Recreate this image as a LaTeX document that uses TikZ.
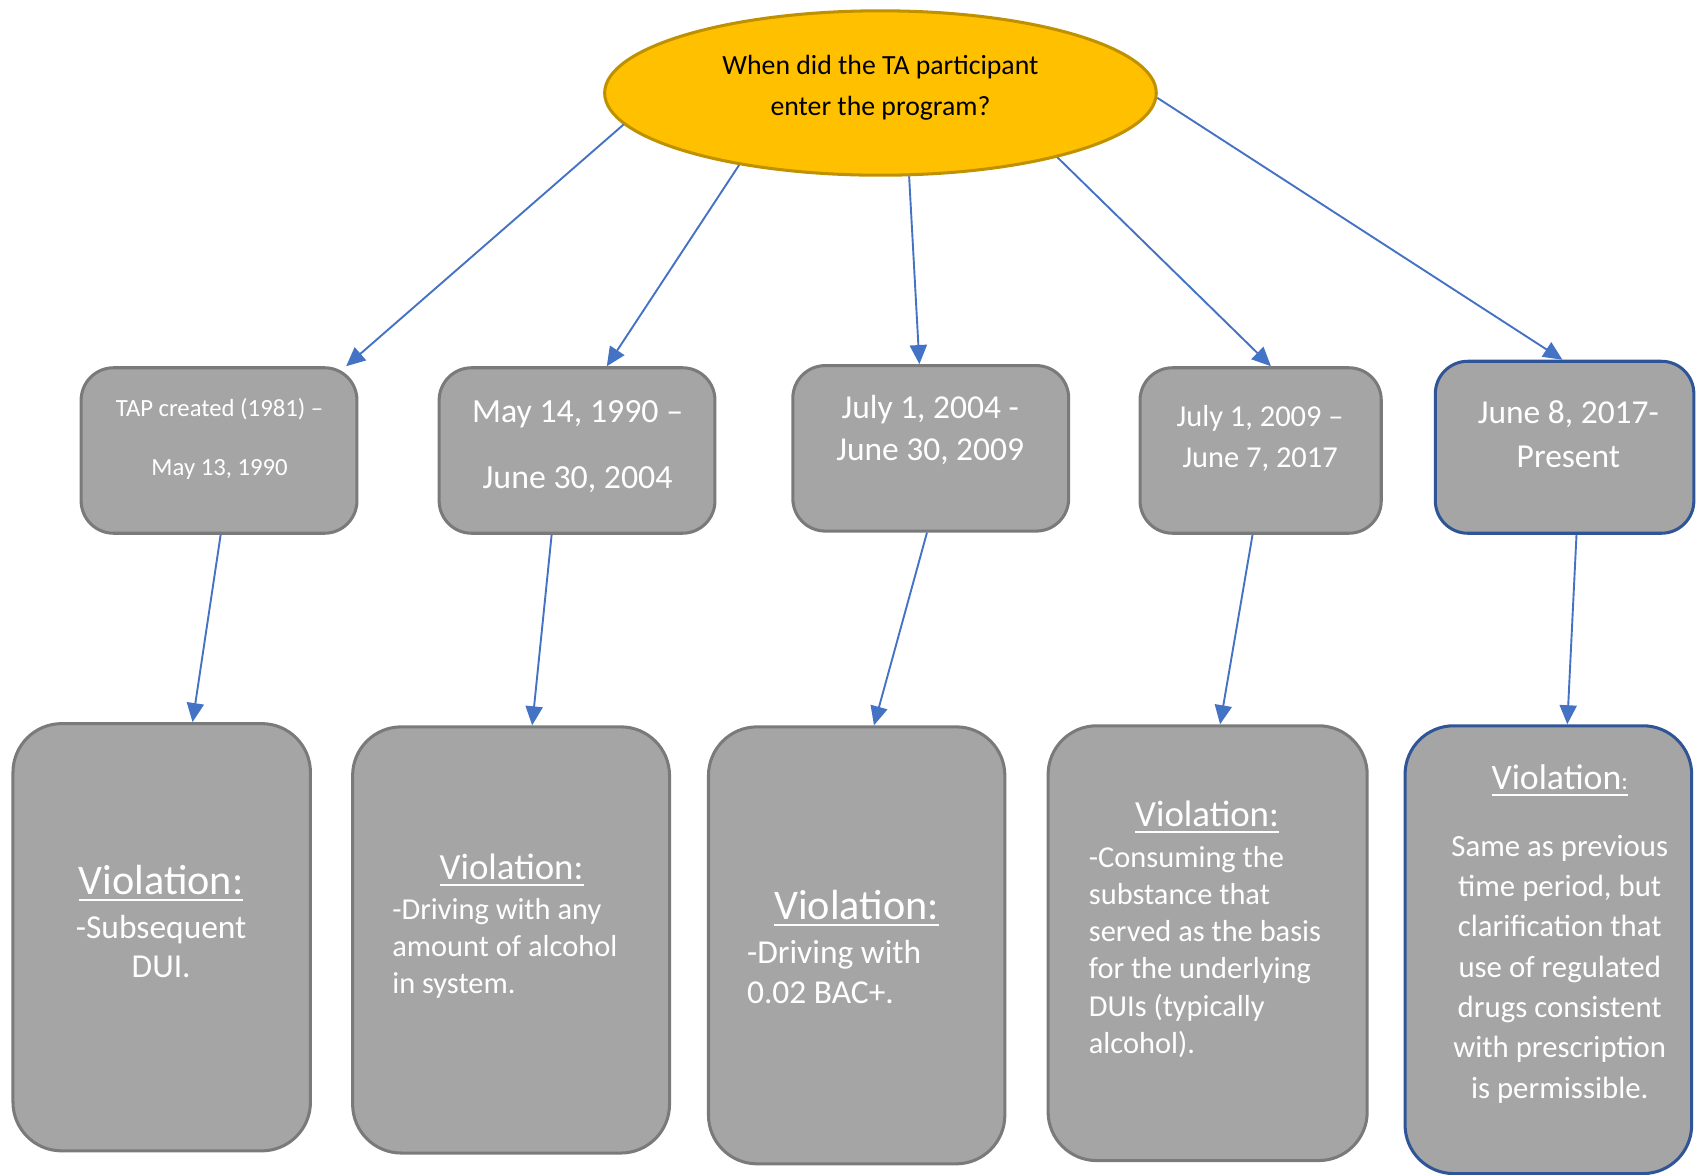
\documentclass[tikz,border=0pt]{standalone}
\usepackage{fontspec}
\setmainfont{Carlito}
\usetikzlibrary{arrows.meta,shapes.geometric}
\definecolor{oro}{HTML}{FFC000}
\definecolor{orobordo}{HTML}{BF9000}
\definecolor{grigio}{HTML}{A5A5A5}
\definecolor{grigiobordo}{HTML}{7A7A7A}
\definecolor{blu}{HTML}{2F5597}
\definecolor{blufreccia}{HTML}{4472C4}
\tikzset{
  domanda/.style={ellipse,draw=orobordo,fill=oro,line width=0.8pt,minimum width=5.1cm,minimum height=1.52cm},
  periodo/.style={draw=grigiobordo,fill=grigio,line width=0.8pt,rounded corners=0.3cm,inner sep=0pt},
  violazione/.style={periodo,rounded corners=0.45cm},
  testo/.style={text=white,inner sep=0pt},
  freccia/.style={draw=blufreccia,line width=0.5pt,-{Triangle[length=5pt,width=4.5pt]}}
}
\begin{document}
\begin{tikzpicture}
   \useasboundingbox (0,0) rectangle (15.68,-10.86);
   %domanda
   \node[domanda] (dom) at (8.14,-0.86) {};
   \node[inner sep=0pt,align=center,font=\fontsize{7.3}{10.8}\selectfont] (q) at (8.14,-0.81) {When did the TA participant\\enter the program?};
   %periodi
   \foreach \n/\x/\y/\w/\h in {b1/2.025/-4.165/2.55/1.53, b2/5.335/-4.165/2.55/1.53, b3/8.605/-4.145/2.55/1.53, b4/11.655/-4.165/2.23/1.53}
      \node[periodo,minimum width=\w cm,minimum height=\h cm] (\n) at (\x,\y) {};
   \node[periodo,draw=blu,minimum width=2.39cm,minimum height=1.59cm] (b5) at (14.465,-4.135) {};
   \node[testo,align=center,font=\fontsize{6.5}{15.4}\selectfont] (t1) at (2.03,-4.06) {TAP created (1981) –\\May 13, 1990};
   \node[testo,align=center,font=\fontsize{8.9}{17.6}\selectfont] (t2) at (5.34,-4.13) {May 14, 1990 –\\June 30, 2004};
   \node[testo,align=center,font=\fontsize{8.8}{11.1}\selectfont] (t3) at (8.60,-3.975) {July 1, 2004 -\\June 30, 2009};
   \node[testo,align=center,font=\fontsize{8}{10.8}\selectfont] (t4) at (11.65,-4.05) {July 1, 2009 –\\June 7, 2017};
   \node[testo,align=center,font=\fontsize{8.8}{11.7}\selectfont] (t5) at (14.50,-4.015) {June 8, 2017-\\Present};
   %violazioni
   \foreach \n/\x/\y/\w/\h in {c1/1.495/-8.665/2.75/3.95, c2/4.725/-8.69/2.93/3.94, c3/7.92/-8.74/2.74/4.04, c4/11.165/-8.72/2.95/4.02}
      \node[violazione,minimum width=\w cm,minimum height=\h cm] (\n) at (\x,\y) {};
   \node[violazione,draw=blu,minimum width=2.65cm,minimum height=4.14cm] (c5) at (14.315,-8.78) {};
   \node[testo,font=\fontsize{11.1}{13}\selectfont] (v1) at (1.49,-8.17) {\underline{Violation:}};
   \node[testo,align=center,font=\fontsize{8.8}{10.2}\selectfont] (d1) at (1.49,-8.75) {-Subsequent\\DUI.};
   \node[testo,font=\fontsize{9.7}{11.5}\selectfont] (v2) at (4.73,-8.05) {\underline{Violation:}};
   \node[testo,anchor=west,align=left,font=\fontsize{8}{9.7}\selectfont] (d2) at (3.62,-8.77) {-Driving with any\\amount of alcohol\\in system.};
   \node[testo,font=\fontsize{11.1}{13}\selectfont] (v3) at (7.92,-8.40) {\underline{Violation:}};
   \node[testo,anchor=west,align=left,font=\fontsize{8.8}{10.5}\selectfont] (d3) at (6.90,-8.985) {-Driving with\\0.02 BAC+.};
   \node[testo,font=\fontsize{9.7}{11.5}\selectfont] (v4) at (11.16,-7.56) {\underline{Violation:}};
   \node[testo,anchor=west,align=left,font=\fontsize{8}{9.8}\selectfont] (d4) at (10.06,-8.80) {-Consuming the\\substance that\\served as the basis\\for the underlying\\DUIs (typically\\alcohol).};
   \node[testo,font=\fontsize{9.4}{11}\selectfont] (v5) at (14.42,-7.22) {\underline{Violation{\fontsize{6.5}{8}\selectfont:}}};
   \node[testo,align=center,font=\fontsize{8.1}{10.6}\selectfont] (d5) at (14.42,-8.96) {Same as previous\\time period, but\\clarification that\\use of regulated\\drugs consistent\\with prescription\\is permissible.};
   %frecce
   \foreach \n/\a/\dx in {b1/187/1.175, b2/207/0.275, b3/289/-0.105, b4/340/0.095, b5/-1.3/-0.02}
      \draw[freccia] (dom.\a) -- ([xshift=\dx cm]\n.north);
   \foreach \i/\da/\db in {1/0.015/0.285, 2/-0.235/0.195, 3/-0.035/0.16, 4/-0.075/0.115, 5/0.11/0.175}
      \draw[freccia] ([xshift=\da cm]b\i.south) -- ([xshift=\db cm]c\i.north);
\end{tikzpicture}
\end{document}
